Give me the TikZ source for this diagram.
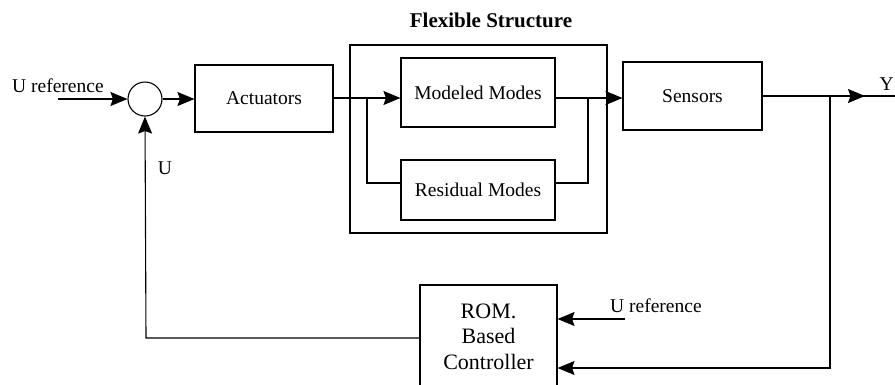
\documentclass[tikz,border=0pt]{standalone}
\usepackage{fontspec}
\setmainfont{Liberation Serif}
\usetikzlibrary{arrows.meta,calc}
\begin{document}
\begin{tikzpicture}[x=1pt,y=-1pt,
  blk/.style={draw,line width=1.1pt,inner sep=0pt,font=\fontsize{19.5}{22}\selectfont},
  wire/.style={line width=1.1pt},
  arr/.style={wire,-{Stealth[length=17pt,width=14pt,inset=2.5pt]}},
  lbl/.style={inner sep=0pt,font=\fontsize{19.5}{22}\selectfont}]
\path[use as bounding box] (0,0) rectangle (895,384);
\clip (0,0) rectangle (895,384);
% blocks
\node[draw,circle,minimum size=34pt,inner sep=0pt,line width=1.1pt] (sum) at (145,99) {};
\node[blk,minimum width=138pt,minimum height=67pt] (act) at (264,98.5) {Actuators};
\node[draw,line width=1.1pt,inner sep=0pt,minimum width=257pt,minimum height=188pt] (flex) at (478.5,139) {};
\node[blk,minimum width=154pt,minimum height=69pt] (mod) at (478,92.5) {Modeled Modes};
\node[blk,minimum width=154pt,minimum height=60pt] (res) at (478,190) {Residual Modes};
\node[inner sep=0pt,anchor=base,font=\fontsize{21}{24}\selectfont\bfseries] (title) at (491,27) {Flexible Structure};
\node[blk,minimum width=139pt,minimum height=68pt] (sens) at (692.5,96) {Sensors};
\node[blk,align=center,minimum width=137pt,minimum height=103pt,font=\fontsize{22}{25.5}\selectfont] (ctrl) at (488.5,336.5) {ROM.\\Based\\Controller};
% labels
\node[lbl,anchor=base west] (uref1) at (12,92) {U reference};
\node[lbl,anchor=base west] (uref2lbl) at (610,312) {U reference};
\node[lbl] (ulbl) at (165,168) {U};
\node[lbl,anchor=base east] (ylbl) at (894,90) {Y};
% coordinates
\coordinate (uin) at (58,99);
\coordinate (spl) at (367,98);
\coordinate (spr) at (588,98);
\coordinate (ysplit) at (830,96);
\coordinate (yarr) at (865,96);
\coordinate (yend) at (895,96);
\coordinate (fb) at (830,368);
\coordinate (uref2) at (625,319);
\coordinate (ul) at (146,338);
% connectors
\draw[arr] (uin) -- (sum.west);
\draw[arr] (sum.east) -- (act.west |- sum.east);
\draw[wire] (act.east |- spl) -- (spl);
\draw[arr] (spl) -- (mod.west |- spl);
\draw[wire] (spl) |- ([yshift=7pt]res.west);
\draw[wire] (mod.east |- spr) -- (spr);
\draw[wire] (spr) |- ([yshift=7pt]res.east);
\draw[arr] (spr) -- (sens.west |- spr);
\draw[wire] (sens.east) -- (yend);
\draw[arr] (sens.east) -- (yarr);
\draw[arr] (ysplit) -- (fb) -- (ctrl.east |- fb);
\draw[arr] (uref2) -- (ctrl.east |- uref2);
\draw[arr] (ctrl.west |- ul) -- (ul) -- (sum.south);
\end{tikzpicture}
\end{document}
